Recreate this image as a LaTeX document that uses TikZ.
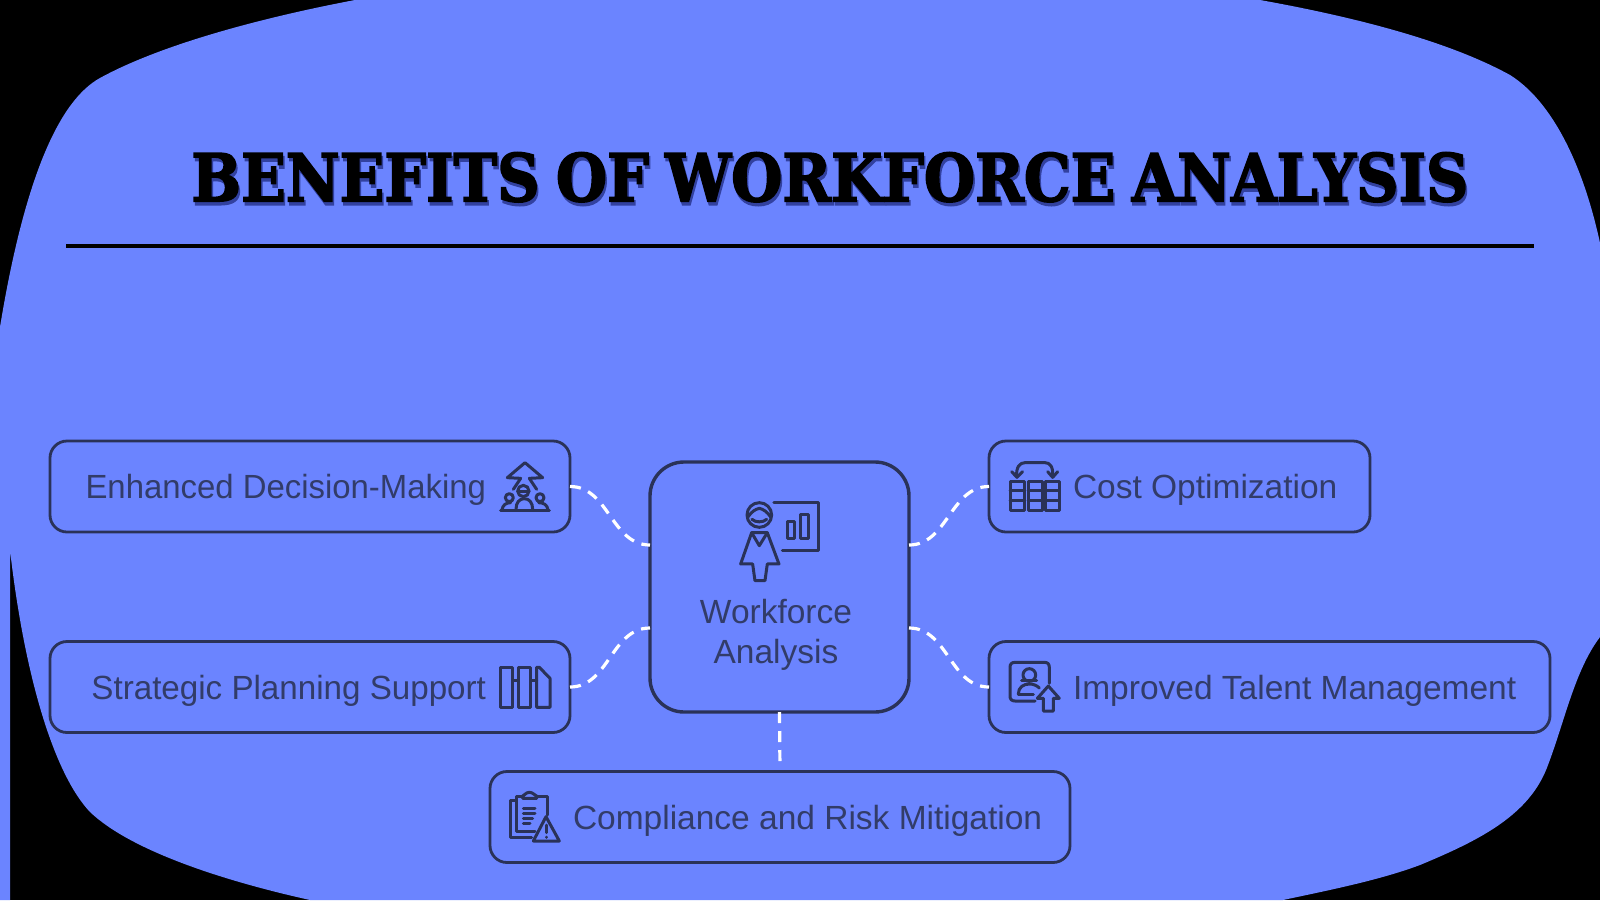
\documentclass[tikz,border=0pt]{standalone}
\usepackage{fontspec}
\usepackage{xcolor}
\usetikzlibrary{calc}
\setmainfont{Liberation Sans}
\newfontfamily\titlefont{DejaVu Serif}[BoldFeatures={FakeBold=2.4,FakeStretch=0.89},WordSpace=0.8]
\definecolor{blobblue}{RGB}{107,132,255}
\definecolor{ink}{RGB}{42,50,88}
\definecolor{labelink}{RGB}{50,60,105}
\definecolor{titleshadow}{RGB}{50,65,160}
\newcommand{\shadowed}[1]{\leavevmode\rlap{\raisebox{-3.5pt}{\kern1.5pt\textcolor{titleshadow}{#1}}}#1}
\newcommand{\lefttext}[3]{\makebox[#1pt][l]{\hspace*{#2pt}#3}}
\newcommand{\righttext}[3]{\makebox[#1pt][r]{#3\hspace*{#2pt}}}
\tikzset{
  benefit/.style={draw=ink, line width=2.8pt, rounded corners=17pt, inner sep=0pt, outer sep=0pt,
    minimum height=91pt, text=labelink, font=\fontsize{33.5}{38}\selectfont,
    text height=24pt, text depth=0pt},
  hub/.style={draw=ink, line width=3.4pt, rounded corners=34pt, inner sep=0pt, outer sep=0pt,
    minimum width=259pt, minimum height=250pt, text=labelink, font=\fontsize{33.5}{40}\selectfont},
  link/.style={draw=white, line width=3.2pt, dash pattern=on 11pt off 8pt},
  glyph/.style={draw=ink, line width=3pt, line join=round, line cap=round},
  zoomA/.style={shift={(480pt,-430pt)}, x=0.3333pt, y=-0.3333pt},
}
\begin{document}
\begin{tikzpicture}[x=1pt,y=-1pt]
\useasboundingbox (0,0) rectangle (1600,900);
\fill[black] (0,0) rectangle (1600,900);
% background blob
\fill[blobblue] (355,0) -- (1260,0)
  .. controls (1360,18) and (1450,42) .. (1510,75)
  .. controls (1550,100) and (1582,160) .. (1600,243)
  -- (1600,637)
  .. controls (1575,670) and (1565,720) .. (1548,765)
  .. controls (1530,815) and (1480,840) .. (1420,865)
  .. controls (1380,880) and (1330,890) .. (1283,900)
  -- (310,900)
  .. controls (220,880) and (130,850) .. (90,812)
  .. controls (55,775) and (25,680) .. (10,550)
  -- (10,900) -- (0,900) -- (0,327)
  .. controls (25,175) and (60,100) .. (100,78)
  .. controls (160,45) and (260,18) .. (355,0)
  -- cycle;
% title
\node[inner sep=0pt, text=black, font=\titlefont\bfseries\fontsize{66}{70}\selectfont] (title) at (830,179) {\shadowed{BENEFITS OF WORKFORCE ANALYSIS}};
\coordinate (ruleL) at (66,245.5);
\coordinate (ruleR) at (1534,245.5);
\draw[black, line width=4pt] (ruleL) -- (ruleR);
% boxes
\node[hub] (center) at (779.5,587) {\raisebox{-54pt}[0pt][0pt]{\parbox{170pt}{\centering\baselineskip=40pt Workforce\\Analysis}}\hspace*{7pt}};
\node[benefit, minimum width=520pt] (decision) at (310,486.5) {\righttext{520}{84}{\scalebox{0.982}[1]{Enhanced Decision-Making}}};
\node[benefit, minimum width=520pt] (planning) at (310,687) {\righttext{520}{84}{\scalebox{0.99}[1]{Strategic Planning Support}}};
\node[benefit, minimum width=381pt] (cost) at (1179.5,486.5) {\lefttext{381}{84}{Cost Optimization}};
\node[benefit, minimum width=561pt] (talent) at (1269.5,687) {\lefttext{561}{84}{Improved Talent Management}};
\node[benefit, minimum width=580pt] (risk) at (780,817) {\lefttext{580}{83}{Compliance and Risk Mitigation}};
% connectors
\coordinate (hubUL) at ($(center.west)+(0,-42)$);
\coordinate (hubLL) at ($(center.west)+(0,41)$);
\coordinate (hubUR) at ($(center.east)+(0,-42)$);
\coordinate (hubLR) at ($(center.east)+(0,41)$);
\draw[link] (decision.east) to[out=0,in=180] (hubUL);
\draw[link] (planning.east) to[out=0,in=180] (hubLL);
\draw[link] (hubUR) to[out=0,in=180] (cost.west);
\draw[link] (hubLR) to[out=0,in=180] (talent.west);
\draw[link, shorten >=9pt] (center.south) -- (risk.north);
% hub icon
\begin{scope}[zoomA, glyph]
  \draw (838,255) circle[radius=37];
  \draw (803,262) .. controls (815,245) and (825,238) .. (838,235) .. controls (851,238) and (861,245) .. (873,262);
  \draw (816,268) .. controls (826,278) and (850,278) .. (860,268);
  \draw (815,308) -- (782,402) -- (818,402) -- (825,452) -- (855,452) -- (862,402) -- (897,402) -- (862,308) -- cycle;
  \draw (815,308) -- (838,347) -- (862,308);
  \draw (882,218) -- (1017,218) -- (1017,362) -- (907,362);
  \draw (922,275) rectangle (943,327);
  \draw (963,253) rectangle (987,327);
\end{scope}
% decision icon
\begin{scope}[zoomA, glyph]
  \draw (100,178) -- (122,145) -- (82,143) -- (135,98) -- (188,143) -- (148,145) -- (170,178);
  \draw (130,183) circle[radius=17];
  \draw (113,183) -- (147,183);
  \draw (88,203) circle[radius=12];
  \draw (180,203) circle[radius=12];
  \draw (62,242) -- (208,242);
  \draw (66,240) .. controls (68,225) and (78,218) .. (92,218);
  \draw (204,240) .. controls (202,225) and (192,218) .. (176,218);
  \draw (108,238) .. controls (108,218) and (118,206) .. (133,206) .. controls (148,206) and (158,218) .. (158,238);
\end{scope}
% planning icon
\begin{scope}[zoomA, glyph]
  \draw (60,712) rectangle (98,832);
  \draw (115,712) rectangle (152,832);
  \draw (170,832) -- (170,712) -- (178,712) -- (210,745) -- (210,832) -- cycle;
  \draw (98,752) -- (115,752);
  \draw (152,752) -- (170,752);
\end{scope}
% cost icon
\begin{scope}[shift={(980pt,-430pt)}, x=0.3333pt, y=-0.3333pt, glyph]
  \foreach \cx in {90,144,196}{
    \draw (\cx,155) rectangle ($(\cx,242)+(42,0)$);
    \draw (\cx,182) -- ($(\cx,182)+(42,0)$);
    \draw (\cx,212) -- ($(\cx,212)+(42,0)$);
  }
  \draw (110,140) .. controls (108,110) and (120,98) .. (135,98) -- (195,98) .. controls (210,98) and (220,110) .. (218,140);
  \draw (95,125) -- (111,142) -- (128,125);
  \draw (203,125) -- (218,142) -- (233,125);
\end{scope}
% talent icon
\begin{scope}[shift={(980pt,-630pt)}, x=0.3333pt, y=-0.3333pt, glyph]
  \draw (165,213) -- (105,213) .. controls (95,213) and (90,208) .. (90,198) -- (90,112) .. controls (90,102) and (95,97) .. (105,97) -- (193,97) .. controls (203,97) and (208,102) .. (208,112) -- (208,160);
  \draw (205,168) -- (172,205) -- (190,205) -- (190,243) -- (220,243) -- (220,205) -- (238,205) -- cycle;
  \draw (148,135) circle[radius=19];
  \draw (125,152) -- (170,152);
  \draw (115,192) .. controls (115,172) and (130,162) .. (148,162) .. controls (160,162) and (170,166) .. (178,174);
  \draw (115,192) -- (160,192);
\end{scope}
% risk icon
\begin{scope}[shift={(480pt,-760pt)}, x=0.3333pt, y=-0.3333pt, glyph]
  \draw (105,122) -- (90,122) -- (90,232) -- (155,232);
  \draw (128,110) -- (108,110) -- (108,215) -- (165,215);
  \draw (170,110) -- (203,110) -- (203,165);
  \draw (128,115) -- (128,108) .. controls (135,106) and (137,97) .. (148,97) .. controls (160,97) and (162,106) .. (170,108) -- (170,115) -- cycle;
  \draw (130,145) -- (165,145);
  \draw (130,160) -- (165,160);
  \draw (130,175) -- (158,175);
  \draw (130,190) -- (150,190);
  \draw (198,170) -- (160,243) -- (238,243) -- cycle;
  \draw (198,195) -- (198,218);
  \draw (198,231) -- (198,232);
\end{scope}
\end{tikzpicture}
\end{document}
